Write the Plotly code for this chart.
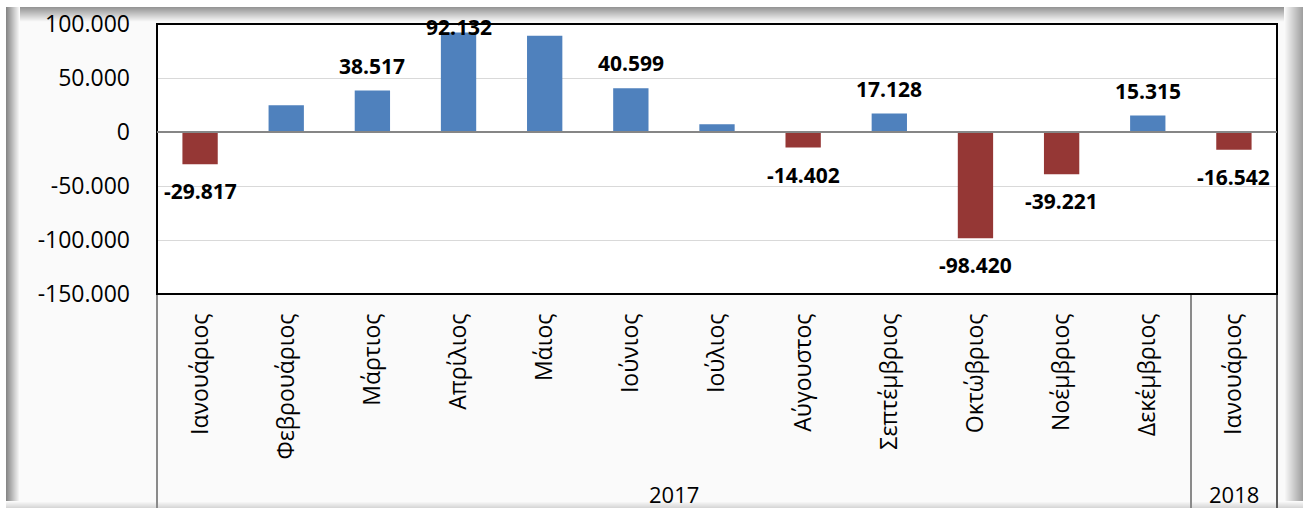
import plotly.graph_objects as go

# ---- data ----
months = ["Ιανουάριος", "Φεβρουάριος", "Μάρτιος", "Απρίλιος", "Μάιος", "Ιούνιος",
          "Ιούλιος", "Αύγουστος", "Σεπτέμβριος", "Οκτώβριος", "Νοέμβριος",
          "Δεκέμβριος", "Ιανουάριος"]
years = ["2017"] * 12 + ["2018"]
values = [-29817, 24700, 38517, 92132, 89200, 40599, 7100, -14402, 17128,
          -98420, -39221, 15315, -16542]
show_label = [True, False, True, True, False, True, False, True, True, True,
              True, True, True]
ytick_vals = [100000, 50000, 0, -50000, -100000, -150000]
ytick_text = ["100.000", "50.000", "0", "-50.000", "-100.000", "-150.000"]

# ---- style ----
W, H = 1303, 508
L, R, T, B = 157, 1277, 24, 294
BLUE, RED = "#4F81BD", "#953735"
FONT = "Open Sans"

def px_x(p):
    return (p - L) / (R - L)

def px_y(p):
    return (B - p) / (B - T)

xs = list(range(len(values)))
colors = [BLUE if v >= 0 else RED for v in values]

fig = go.Figure()
fig.add_trace(go.Bar(x=xs, y=values, marker=dict(color=colors, line=dict(width=0)),
                     width=0.41, hoverinfo="skip"))

shapes = []

def band(x0, y0, x1, y1, c0, c1, n, horizontal):
    # gradient band made of thin rects
    for i in range(n):
        t = i / max(n - 1, 1)
        c = tuple(round(a + (b - a) * t) for a, b in zip(c0, c1))
        col = "rgb(%d,%d,%d)" % c
        if horizontal:
            xa = x0 + (x1 - x0) * i / n
            xb = x0 + (x1 - x0) * (i + 1) / n
            ya, yb = y0, y1
        else:
            ya = y0 + (y1 - y0) * i / n
            yb = y0 + (y1 - y0) * (i + 1) / n
            xa, xb = x0, x1
        shapes.append(dict(type="rect", xref="paper", yref="paper", layer="below",
                           x0=px_x(xa), x1=px_x(xb), y0=px_y(ya), y1=px_y(yb),
                           fillcolor=col, line=dict(width=0)))

# white strip at top
shapes.append(dict(type="rect", xref="paper", yref="paper", layer="below",
                   x0=px_x(0), x1=px_x(W), y0=px_y(0), y1=px_y(7),
                   fillcolor="white", line=dict(width=0)))
# white strip at left
shapes.append(dict(type="rect", xref="paper", yref="paper", layer="below",
                   x0=px_x(0), x1=px_x(6), y0=px_y(0), y1=px_y(H),
                   fillcolor="white", line=dict(width=0)))
# top gradient
band(6, 7, W, 22, (150, 150, 150), (248, 248, 248), 15, False)
# left gradient
band(6, 7, 20, H, (135, 135, 135), (250, 250, 250), 14, True)
# right gradient
band(1284, 7, W, H, (250, 250, 250), (160, 160, 160), 19, True)
# bottom gradient
band(6, 501, W, H, (250, 250, 250), (215, 215, 215), 7, False)

# category area lines
for xp, col in [(L, "#8a8a8a"), (1191, "#8a8a8a"), (R, "#5a5a5a")]:
    shapes.append(dict(type="line", xref="paper", yref="paper", layer="above",
                       x0=px_x(xp), x1=px_x(xp), y0=0, y1=px_y(H),
                       line=dict(color=col, width=2)))
# plot border
shapes.append(dict(type="rect", xref="paper", yref="paper", layer="above",
                   x0=0, x1=1, y0=0, y1=1, line=dict(color="black", width=2)))
# zero line
shapes.append(dict(type="line", xref="paper", yref="y", layer="above",
                   x0=0, x1=1, y0=0, y1=0, line=dict(color="#868686", width=2)))

annotations = []
ymax = ytick_vals[0]
for i, (v, s) in enumerate(zip(values, show_label)):
    if not s:
        continue
    txt = format(v, ",").replace(",", ".")
    if v >= 0:
        yv = min(v + 23000, ymax - 3000)
    else:
        yv = v - 25000
    annotations.append(dict(x=i, y=yv, xref="x", yref="y", text="<b>%s</b>" % txt,
                            showarrow=False, yanchor="middle", xanchor="center",
                            font=dict(family=FONT, size=21, color="black")))

# year labels
for yr in sorted(set(years)):
    idx = [i for i, y in enumerate(years) if y == yr]
    annotations.append(dict(x=(idx[0] + idx[-1]) / 2, y=px_y(494), xref="x", yref="paper",
                            text=yr, showarrow=False, yanchor="middle",
                            font=dict(family=FONT, size=22, color="black")))

fig.update_layout(
    width=W, height=H, autosize=False,
    margin=dict(l=L, r=W - R, t=T, b=H - B, pad=0, autoexpand=False),
    paper_bgcolor="#fafafa", plot_bgcolor="white",
    showlegend=False, bargap=0.59,
    shapes=shapes, annotations=annotations,
    font=dict(family=FONT, color="black"),
    xaxis=dict(range=[-0.5, len(values) - 0.5], tickvals=xs, ticktext=months,
               tickangle=-90, showgrid=False, zeroline=False, showline=False,
               ticks="", tickfont=dict(family=FONT, size=23, color="black"),
               ticklabelstandoff=14, automargin=False),
    yaxis=dict(range=[-150000, 100000], tickvals=ytick_vals, ticktext=ytick_text,
               showgrid=True, gridcolor="#d9d9d9", gridwidth=1, zeroline=False,
               showline=False, ticks="", ticklabelstandoff=26, automargin=False,
               tickfont=dict(family=FONT, size=23, color="black")),
)

fig.write_html("out.html", config={"displayModeBar": False},
               post_script="document.documentElement.style.margin='0';"
                           "document.body.style.margin='0';document.body.style.padding='0';"
                           "document.body.style.overflow='hidden';")
